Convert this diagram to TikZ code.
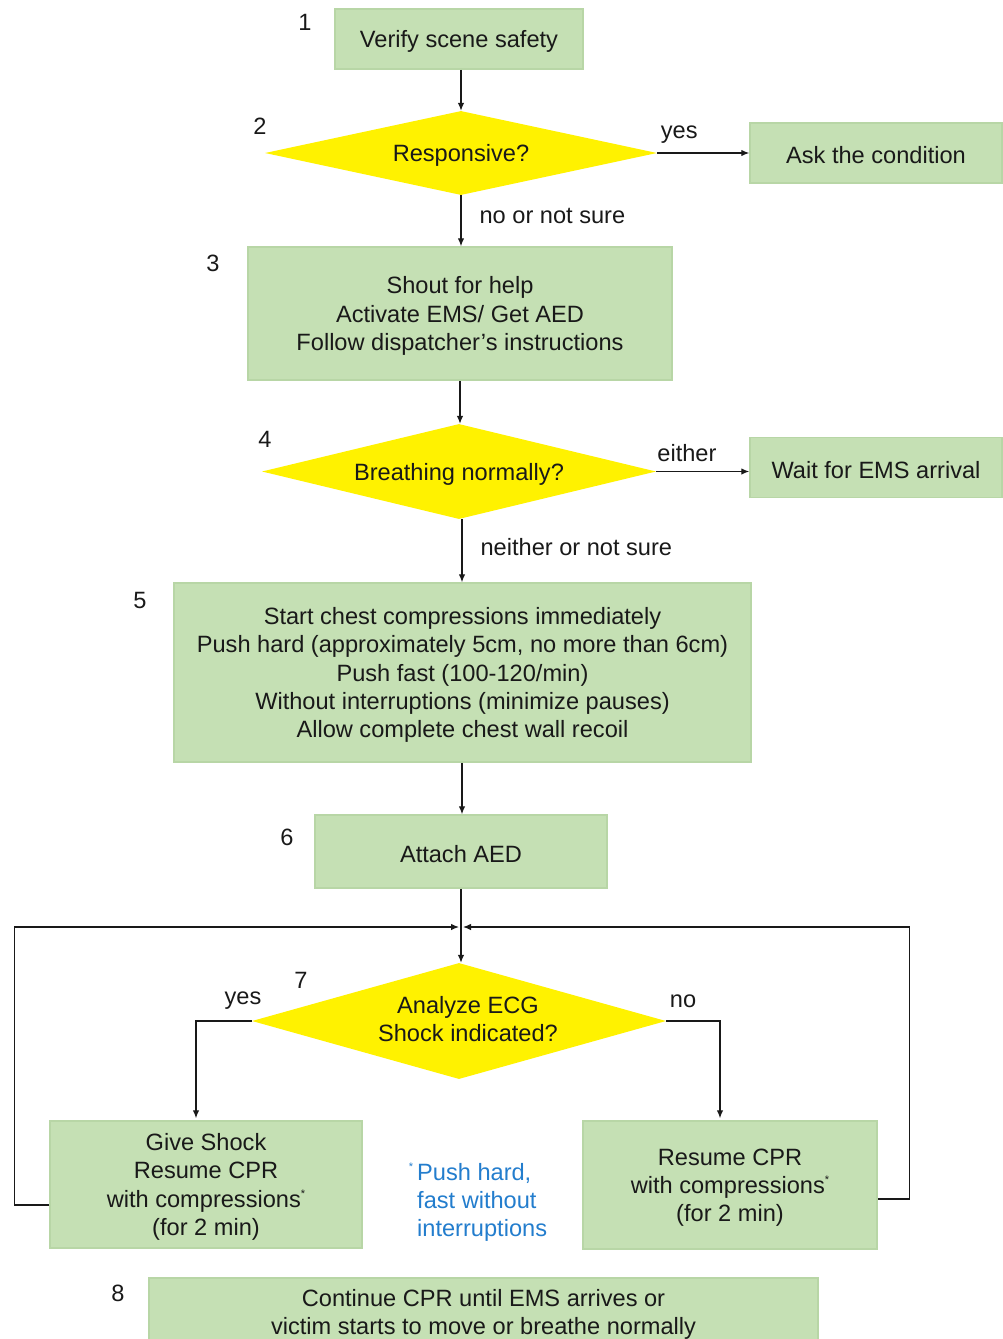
\documentclass[tikz,border=0pt]{standalone}
\usepackage{fontspec}
\setmainfont{Liberation Sans}
\usetikzlibrary{shapes.geometric,arrows.meta}
\definecolor{boxfill}{RGB}{197,224,180}
\definecolor{boxline}{RGB}{184,214,166}
\definecolor{notecol}{RGB}{35,125,205}
\definecolor{ink}{RGB}{25,25,25}
\newcommand\sstar{\raisebox{0.8ex}{\fontsize{11}{11}\selectfont *}}
\begin{document}
\begin{tikzpicture}[x=1pt,y=-1pt,
  every node/.style={font=\fontsize{23.6}{28.3}\selectfont, text=ink},
  tlabel/.style={align=center, inner sep=0pt, yshift=-2.5pt},
  tx/.style={label={[tlabel]center:{#1}}},
  box/.style={draw=boxline, line width=1.5pt, fill=boxfill, inner sep=0pt},
  dia/.style={diamond, fill=yellow, draw=none, inner sep=0pt},
  arr/.style={-{Latex[length=8pt,width=6.5pt]}, line width=1.2pt, draw=ink},
  num/.style={inner sep=0pt},
  lbl/.style={inner sep=0pt}]
\useasboundingbox (0,0) rectangle (1002,1339);

% nodes
\node[box, minimum width=248, minimum height=60, tx={Verify scene safety}] (b1) at (459,39) {};
\node[dia, minimum width=392, minimum height=84, tx={Responsive?}] (d2) at (461,153) {};
\node[box, minimum width=252, minimum height=60, tx={Ask the condition}] (ask) at (876,153) {};
\node[box, minimum width=424, minimum height=133, tx={Shout for help\\Activate EMS/ Get AED\\Follow dispatcher’s instructions}] (b3) at (460,313.5) {};
\node[dia, minimum width=394, minimum height=95, tx={Breathing normally?}] (d4) at (459,471.5) {};
\node[box, minimum width=252, minimum height=60, tx={Wait for EMS arrival}] (wait) at (876,467.5) {};
\node[box, minimum width=577, minimum height=179, tx={Start chest compressions immediately\\Push hard (approximately 5cm, no more than 6cm)\\Push fast (100-120/min)\\Without interruptions (minimize pauses)\\Allow complete chest wall recoil}] (b5) at (462.5,672.5) {};
\node[box, minimum width=292, minimum height=73, tx={Attach AED}] (b6) at (461,851.5) {};
\node[dia, minimum width=414, minimum height=116,
      label={[tlabel, xshift=9pt, yshift=4.5pt]center:{Analyze ECG\\Shock indicated?}}] (d7) at (459,1021) {};
\node[box, minimum width=312, minimum height=127, tx={Give Shock\\Resume CPR\\with compressions\sstar\\(for 2 min)}] (gs) at (206,1184.5) {};
\node[box, minimum width=294, minimum height=128, tx={Resume CPR\\with compressions\sstar\\(for 2 min)}] (rc) at (730,1185) {};
\node[box, minimum width=669, minimum height=68, tx={Continue CPR until EMS arrives or\\victim starts to move or breathe normally}] (b8) at (483.5,1312) {};
\node[inner sep=0pt, anchor=west, align=left, text=notecol] (note) at (417,1202) {\llap{\sstar\,}Push hard,\\fast without\\interruptions};

% step numbers
\node[num] (n1) at (305,22) {1};
\node[num] (n2) at (260,126) {2};
\node[num] (n3) at (213,263) {3};
\node[num] (n4) at (265,439) {4};
\node[num] (n5) at (140,600) {5};
\node[num] (n6) at (287,837) {6};
\node[num] (n7) at (301,980) {7};
\node[num] (n8) at (118,1293) {8};

% connectors
\draw[arr] (b1.south -| d2.north) -- (d2.north);
\draw[arr] (d2.east) -- (ask.west) node[lbl, pos=0.24, above=9pt] (l1) {yes};
\draw[arr] (d2.south) -- (b3.north -| d2.south) node[lbl, midway, right=18pt, yshift=5pt] (l2) {no or not sure};
\draw[arr] (b3.south) -- (d4.north -| b3.south);
\draw[arr] (d4.east) -- (d4.east -| wait.west) node[lbl, pos=0.33, above=9pt] (l3) {either};
\draw[arr] (d4.south -| 462,0) -- (b5.north -| 462,0) node[lbl, midway, right=18pt, yshift=4pt] (l4) {neither or not sure};
\draw[arr] (b5.south -| 462,0) -- (b6.north -| 462,0);

\coordinate (jn) at (461,927);
\draw[arr] (b6.south) -- (d7.north -| b6.south);
\draw[arr] ([yshift=-20.5pt]gs.west) -- ++(-35,0) |- ([xshift=-2pt]jn);
\draw[arr] ([yshift=-14pt]rc.east) -- ++(32,0) |- ([xshift=2pt]jn);

\draw[arr, shorten >=2pt] (d7.west) -| ([xshift=-10pt]gs.north);
\draw[arr, shorten >=2pt] (d7.east) -| ([xshift=-10pt]rc.north);
\node[lbl] (ly) at (243,1001) {yes};
\node[lbl] (ln) at (683,1001) {no};
\end{tikzpicture}
\end{document}
